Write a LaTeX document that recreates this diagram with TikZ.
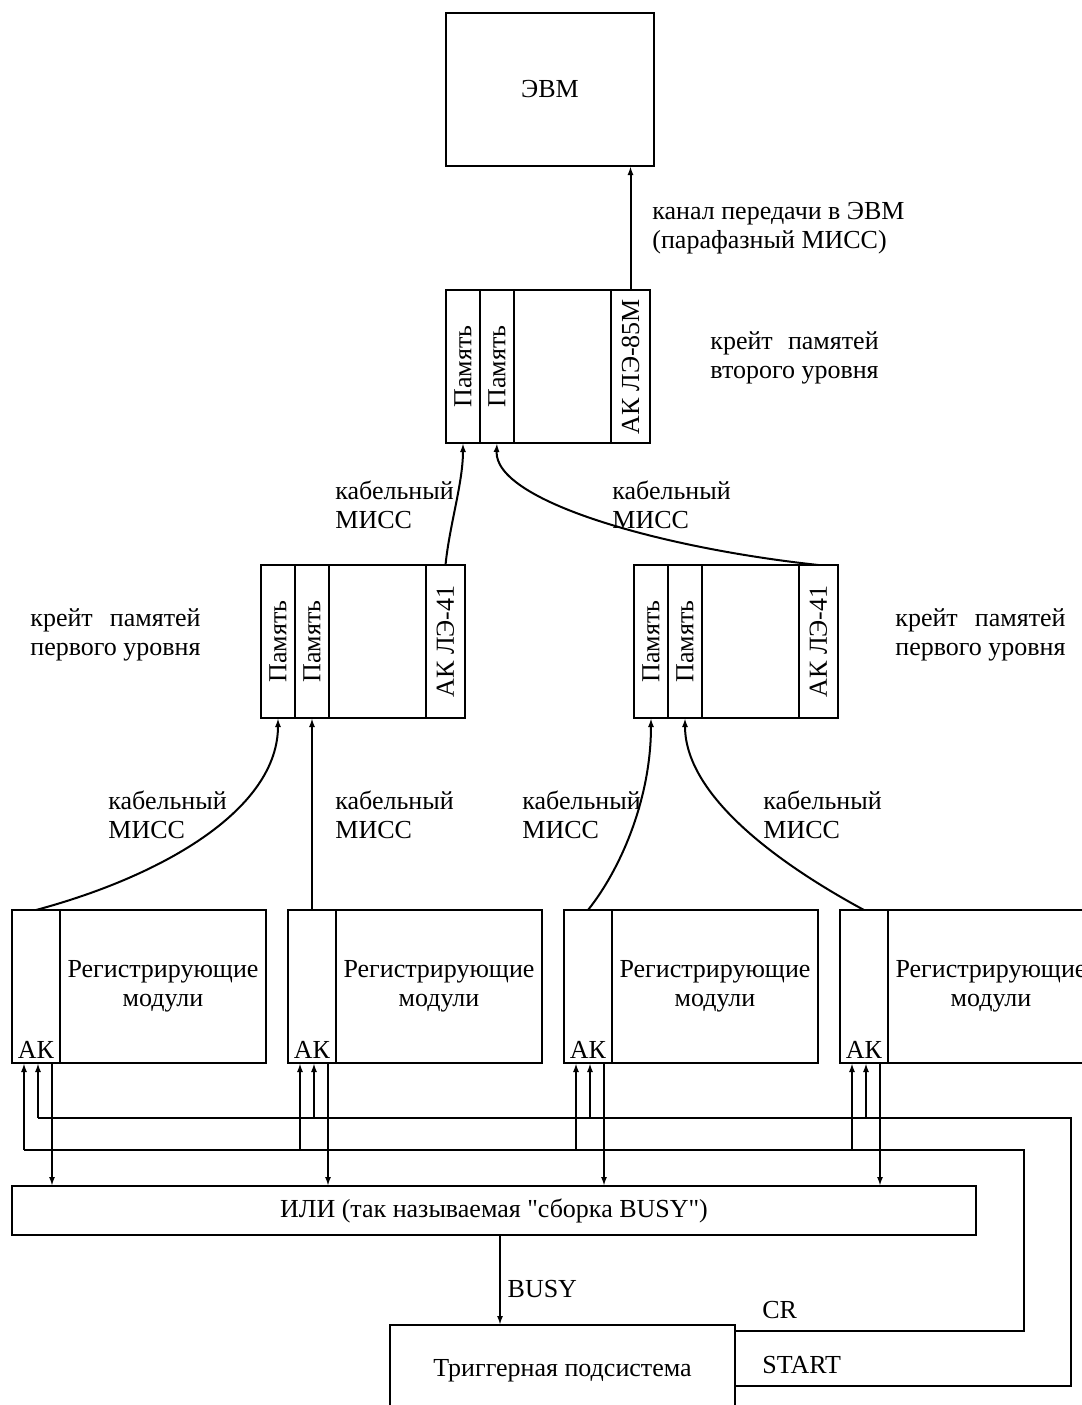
\documentclass[tikz,border=0pt]{standalone}
\usepackage{fontspec}
\setmainfont{Liberation Serif}[Ligatures=TeXOff]
\usetikzlibrary{arrows.meta, calc, positioning}

\newlength{\crw}
\newcommand{\cratelabel}[2]{\settowidth{\crw}{#2}\makebox[\crw][s]{#1}\\#2}

\begin{document}
\begin{tikzpicture}[
        x=0.5pt, y=-0.5pt,
        font=\fontsize{13pt}{14.5pt}\selectfont,
        box/.style={draw, line width=1.3pt, inner sep=0pt, outer sep=0pt,
                    anchor=north west, align=center},
        colbox/.style={box, minimum height=76.5pt},
        arr/.style={-{Latex[length=4.5pt, width=3pt]}, line width=1pt},
        wire/.style={line width=1pt},
        lbl/.style={anchor=west, align=left, inner sep=0pt}
      ]
        \useasboundingbox (0,0) rectangle (1082,1405);

        \node[box, minimum width=104pt, minimum height=76.5pt] (evm) at (446,13) {ЭВМ};

        % memory crates
        \foreach \c/\x/\y/\akname in {A/446/290/{АК ЛЭ-85М}, B/261/565/{АК ЛЭ-41}, C/634/565/{АК ЛЭ-41}} {
          \node[colbox, minimum width=17pt] (mem\c1) at (\x,\y) {\rotatebox{90}{Память}};
          \node[colbox, minimum width=17pt] (mem\c2) at (mem\c1.north east) {\rotatebox{90}{Память}};
          \node[colbox, minimum width=48.5pt] (empty\c) at (mem\c2.north east) {};
          \node[colbox, minimum width=19.5pt] (ak\c) at (empty\c.north east) {\rotatebox{90}{\akname}};
        }

        % registering modules
        \foreach \i/\x in {1/12, 2/288, 3/564, 4/840} {
          \node[colbox, minimum width=24pt,
                label={[anchor=south, inner sep=2pt]south:АК}] (akm\i) at (\x,910) {};
          \node[colbox, minimum width=103pt] (regm\i) at (akm\i.north east) {Регистрирующие\\модули};
        }

        \node[box, minimum width=482pt, minimum height=24.5pt] (orbox) at (12,1186)
              {ИЛИ (так называемая "сборка BUSY")};
        \node[box, minimum width=172.5pt, minimum height=46pt] (trig) at (390,1325)
              {\raisebox{1.5pt}{Триггерная подсистема}};

        % labels
        \node[lbl] (chan) at (652,228) {канал передачи в ЭВМ\\(парафазный МИСС)};
        \node[lbl] (lvltwo) at (710,358) {\cratelabel{крейт памятей}{второго уровня}};
        \node[lbl] (lvlonel) at (30,635) {\cratelabel{крейт памятей}{первого уровня}};
        \node[lbl] (lvloner) at (895,635) {\cratelabel{крейт памятей}{первого уровня}};
        \node[lbl] (cabA) at (335,505) {кабельный\\МИСС};
        \node[lbl] (cabB) at (612,505) {кабельный\\МИСС};
        \node[lbl] (cabC) at (108,815) {кабельный\\МИСС};
        \node[lbl] (cabD) at (335,815) {кабельный\\МИСС};
        \node[lbl] (cabE) at (522,815) {кабельный\\МИСС};
        \node[lbl] (cabF) at (763,815) {кабельный\\МИСС};
        \node[lbl] (crlbl) at (762,1310) {CR};
        \node[lbl] (stlbl) at (762,1365) {START};

        % cables
        \draw[arr] (akA.north) -- (akA.north |- evm.south);
        \draw[arr] (akB.north) .. controls +(4,-40) and +(0,40) .. (memA1.south);
        \draw[arr] (akC.north) .. controls +(-158,-17) and +(-3,58) .. (memA2.south);
        \draw[arr] (akm1.north) .. controls +(130,-35) and +(0,90) .. (memB1.south);
        \draw[arr] (akm2.north) -- (memB2.south);
        \draw[arr] (akm3.north) .. controls +(32,-40) and +(0,82) .. (memC1.south);
        \draw[arr] (akm4.north) .. controls +(-74,-40) and +(0,82) .. (memC2.south);

        % CR / START / BUSY lines
        \foreach \i in {1,...,4} {
          \draw[arr] ($(akm\i.south west)+(12,87)$) -- ($(akm\i.south west)+(12,0)$);
          \draw[arr] ($(akm\i.south west)+(26,55)$) -- ($(akm\i.south west)+(26,0)$);
          \draw[arr] ($(akm\i.south west)+(40,0)$) coordinate (b\i) -- (b\i |- orbox.north);
        }
        \coordinate (crturn) at (1024,1150);
        \coordinate (stturn) at (1071,1118);
        \draw[wire] ($(akm1.south west)+(12,87)$) -- (crturn) |- ($(trig.north east)+(0,6)$);
        \draw[wire] ($(akm1.south west)+(26,55)$) -- (stturn) |- ($(trig.north east)+(0,61)$);
        \draw[arr] ($(orbox.south west)+(488,0)$) coordinate (busy) -- (busy |- trig.north)
              node[pos=0.6, right] {BUSY};
      \end{tikzpicture}
\end{document}
